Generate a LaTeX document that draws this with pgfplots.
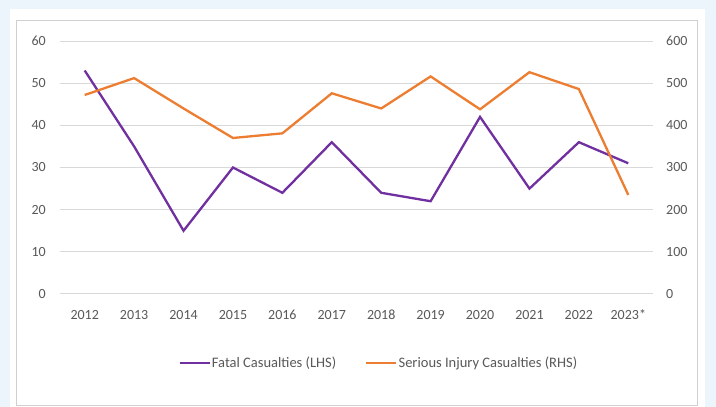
\documentclass[border=0pt]{standalone}
\usepackage{pgfplots}
\pgfplotsset{compat=1.18}
\usepackage{fontspec}
\setmainfont{Carlito}
\definecolor{bgblue}{HTML}{EDF5FC}
\definecolor{fatal}{HTML}{7030A0}
\definecolor{serious}{HTML}{ED7D31}
\definecolor{gridgray}{HTML}{D9D9D9}
\definecolor{txtgray}{HTML}{595959}
\definecolor{bordergray}{HTML}{D0D0D0}
\begin{document}
\begin{tikzpicture}
\fill[bgblue] (0pt,0pt) rectangle (716pt,407pt);
\fill[white] (10pt,0pt) rectangle (705pt,398pt);
\draw[bordergray, line width=1pt] (16pt,1pt) rectangle (697pt,386pt);
\pgfplotsset{
  common/.style={
    scale only axis, width=593pt, height=253pt,
    at={(60pt,113pt)}, anchor=south west,
    xmin=-0.5, xmax=11.5,
    axis line style={draw=none},
    tick style={draw=none},
    ticklabel style={font=\fontsize{14}{16}\selectfont, text=txtgray, inner sep=0pt},
    /pgf/number format/assume math mode=true,
  }
}
\begin{axis}[common,
  ymin=0, ymax=60, ytick={0,10,...,60},
  ymajorgrids, grid style={gridgray, line width=1pt},
  xtick={0,...,11},
  xticklabels={2012,2013,2014,2015,2016,2017,2018,2019,2020,2021,2022,2023*},
  xticklabel style={anchor=base, yshift=-26pt},
  yticklabel style={anchor=east, xshift=-14pt},
  legend columns=2,
  legend style={draw=none, fill=none, at={(0.537,-0.273)}, anchor=center,
    font=\fontsize{14.5}{16}\selectfont, text=txtgray,
    nodes={inner sep=1pt},
    /tikz/every even column/.append style={column sep=28pt},
    inner sep=0pt},
  legend image code/.code={\draw[#1] (0pt,0pt) -- (30pt,0pt);},
]
\addplot[fatal, line width=2.3pt] coordinates {
(0,53) (1,35) (2,15) (3,30) (4,24) (5,36) (6,24) (7,22) (8,42) (9,25) (10,36) (11,31)};
\addlegendentry{Fatal Casualties (LHS)}
\addlegendimage{serious, line width=2.3pt}
\addlegendentry{Serious Injury Casualties (RHS)}
\end{axis}
\begin{axis}[common,
  ymin=0, ymax=600, ytick={0,100,...,600},
  axis y line*=right, axis x line=none,
  yticklabel style={anchor=west, xshift=13pt},
]
\addplot[serious, line width=2.3pt] coordinates {
(0,472) (1,512) (2,440) (3,370) (4,381) (5,476) (6,440) (7,516) (8,438) (9,526) (10,486) (11,235)};
\end{axis}
\end{tikzpicture}
\end{document}
